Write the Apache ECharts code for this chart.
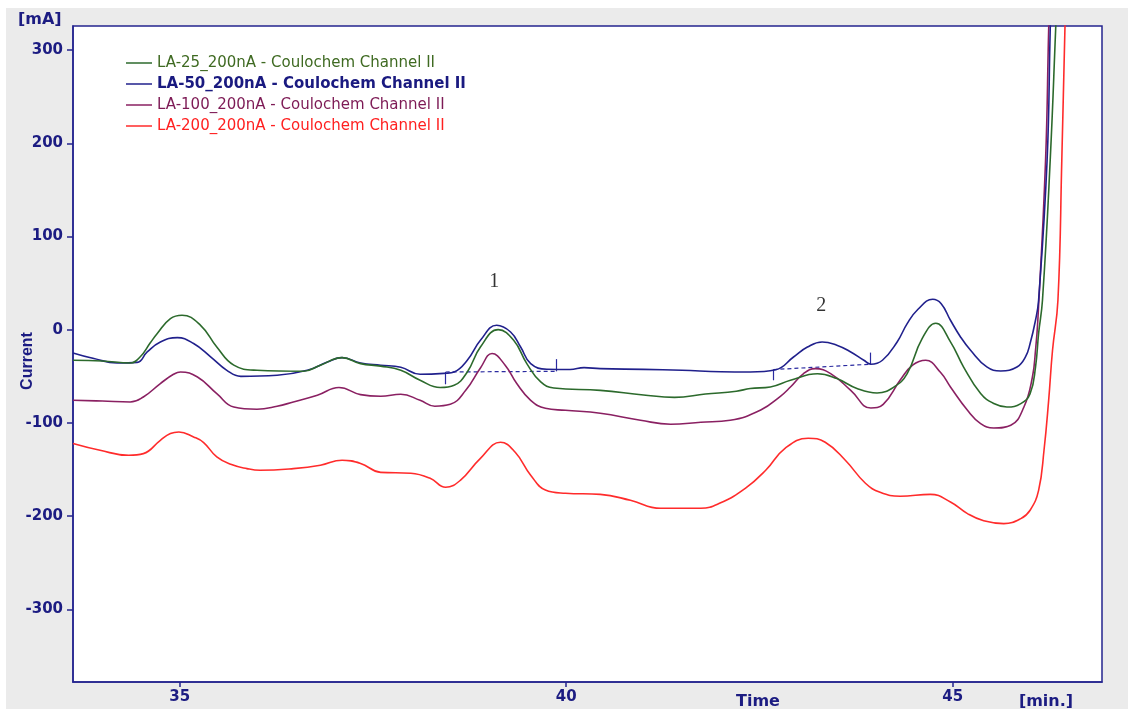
<!DOCTYPE html>
<html>
<head>
<meta charset="utf-8">
<title>Coulochem Channel II</title>
<script src="https://cdn.jsdelivr.net/npm/echarts@6/dist/echarts.min.js"></script>
<style>
  html, body { margin: 0; padding: 0; background: #ffffff; }
  #frame { position: absolute; left: 6px; top: 8px; width: 1122px; height: 701px; background: #ebebeb; }
  #chart { position: absolute; left: 0; top: 0; width: 1128px; height: 709px; }
</style>
</head>
<body>
<div id="frame"></div>
<div id="chart"></div>
<script>
// Chromatogram traces: [time (min), current (mA)]
const la25 = [
  [33.62, -32.7], [34.0, -33.5], [34.36, -35.6], [34.49, -29], [34.62, -14], [34.71, -4],
  [34.88, 12], [35.03, 15.6], [35.27, 4.8], [35.48, -18.5], [35.7, -38], [36.0, -43.5],
  [36.6, -44.5], [36.82, -38], [37.1, -29.9], [37.34, -36.3], [37.6, -39], [37.86, -43.5],
  [38.11, -54.2], [38.37, -62], [38.55, -59.6], [38.72, -45.3], [38.89, -18.5], [39.12, 0.2],
  [39.32, -11.3], [39.49, -36.3], [39.67, -56], [39.84, -62.5], [40.44, -65], [41.0, -70],
  [41.4, -72.5], [41.8, -69], [42.2, -66], [42.38, -63], [42.64, -61.4], [42.9, -54.2],
  [43.25, -47.2], [43.5, -52.4], [43.76, -63], [44.02, -67.8], [44.24, -61.4], [44.41, -47],
  [44.6, -10], [44.78, 7], [44.97, -13], [45.14, -40], [45.36, -68.5], [45.53, -79.2],
  [45.7, -82.9], [45.88, -79.2], [46.0, -68.5], [46.07, -40], [46.11, -4], [46.16, 31.7],
  [46.26, 181.9], [46.33, 321.5], [46.34, 345]
];
const la50 = [
  [33.62, -24.9], [33.89, -30.9], [34.19, -35.6], [34.45, -35], [34.58, -23.8], [34.75, -13.1],
  [34.97, -8.4], [35.18, -14.8], [35.4, -29], [35.61, -43.5], [35.79, -50], [36.26, -48.8],
  [36.65, -43.5], [36.91, -34.6], [37.1, -29.9], [37.34, -35.6], [37.6, -38], [37.86, -40.2],
  [38.11, -47.8], [38.44, -46.7], [38.55, -45.3], [38.72, -32.7], [38.89, -11.3], [39.1, 4.8],
  [39.28, -2.4], [39.41, -18.5], [39.54, -36.3], [39.75, -42.4], [40.05, -42.7], [40.23, -40.6],
  [40.44, -41.7], [41.0, -42.5], [41.5, -43.5], [42.0, -45], [42.38, -45.3], [42.71, -42.9],
  [42.94, -29.2], [43.12, -18.5], [43.31, -13.1], [43.5, -16.6], [43.68, -23.8], [43.85, -32.7],
  [43.94, -37], [44.09, -32.7], [44.28, -13.1], [44.41, 6.6], [44.55, 22], [44.74, 32.7],
  [44.85, 28], [44.97, 10.2], [45.1, -7.7], [45.23, -22], [45.44, -39.9], [45.62, -44.2],
  [45.83, -40], [45.94, -29.2], [46.0, -14.8], [46.07, 10.2], [46.11, 31.7], [46.22, 181.9],
  [46.26, 321.5], [46.27, 345]
];
const la100 = [
  [33.62, -75.7], [34.0, -76.5], [34.36, -77.5], [34.53, -72.1], [34.75, -57.7], [34.92, -47.8],
  [35.01, -45.3], [35.23, -50.7], [35.48, -68.5], [35.7, -82.9], [36.0, -85.3], [36.26, -82.1],
  [36.47, -77.5], [36.78, -70.3], [37.06, -62], [37.34, -69.6], [37.6, -71.4], [37.86, -69.2],
  [38.11, -75.7], [38.3, -82], [38.5, -80], [38.7, -65], [38.89, -41], [39.04, -25.5],
  [39.21, -38], [39.36, -57.7], [39.54, -75.7], [39.73, -84.3], [39.99, -86.4], [40.44, -89.6],
  [40.96, -97.1], [41.35, -101.4], [41.74, -99.3], [42.12, -97.1], [42.51, -86.4], [42.77, -71.4],
  [42.9, -61.4], [43.07, -47], [43.22, -41.7], [43.42, -47], [43.68, -65], [43.94, -84],
  [44.1, -80], [44.32, -54], [44.48, -38], [44.65, -32.7], [44.84, -45.6], [44.97, -61.4],
  [45.19, -86.4], [45.36, -100.7], [45.53, -105.4], [45.75, -102.5], [45.92, -82.9], [46.03, -50.7],
  [46.07, -22], [46.1, 10.2], [46.2, 181.9], [46.24, 321.5], [46.25, 345]
];
const la200 = [
  [33.62, -122], [33.97, -129.3], [34.34, -134.7], [34.53, -132.9], [34.75, -118.6], [34.88, -111.4],
  [34.99, -109.7], [35.18, -115], [35.31, -121], [35.48, -136.5], [35.66, -144.4], [35.87, -149],
  [36.04, -150.8], [36.47, -149], [36.82, -145.4], [37.1, -140], [37.34, -143.4], [37.6, -153],
  [37.99, -154], [38.24, -159.4], [38.44, -169], [38.63, -161.6], [38.89, -138], [39.15, -120.7],
  [39.34, -131.5], [39.54, -156], [39.73, -172], [39.99, -175.5], [40.44, -176.6], [40.83, -183],
  [41.22, -191.6], [41.74, -191.6], [41.99, -186], [42.32, -170], [42.58, -150.8], [42.83, -127.2],
  [43.13, -116.4], [43.35, -120.7], [43.61, -140], [43.87, -164.7], [44.06, -174.4], [44.32, -178.7],
  [44.71, -176.6], [44.97, -184.8], [45.19, -197.3], [45.4, -205], [45.66, -208], [45.88, -202.7],
  [46.0, -193.7], [46.11, -172.3], [46.18, -129.3], [46.24, -75.7], [46.29, -22], [46.36, 31.7],
  [46.41, 181.9], [46.45, 321.5], [46.46, 345]
];

const seriesNames = [
  'LA-25_200nA - Coulochem Channel II',
  'LA-50_200nA - Coulochem Channel II',
  'LA-100_200nA - Coulochem Channel II',
  'LA-200_200nA - Coulochem Channel II'
];
const seriesColors = ['#2c6a2c', '#20208c', '#8a2062', '#ff2b2b'];
const legendTextColors = ['#3f6a22', '#1a1a80', '#7d1a55', '#ff2020'];

// Axis ticks
const timeTicks = [35, 40, 45];
const currentTicks = [-300, -200, -100, 0, 100, 200, 300];
const timeRange = [33.62, 46.93];
const currentRange = [-378, 326];

// Integration baselines drawn under the numbered peaks: [start, end]
const baselines = [
  [[38.44, -45.3], [39.87, -44.6]],
  [[42.68, -42.7], [43.93, -37.0]]
];
// Short vertical markers at the baseline ends: [time, from, to]
const baselineMarks = [
  [38.44, -45.3, -58.5],
  [39.87, -44.6, -31.5],
  [42.68, -42.7, -54.2],
  [43.93, -37.0, -24.5]
];
// Peak numbers
const peakTimes = [39.07, 43.30];
const peakLevels = [52, 26];
const peakNames = ['1', '2'];

const axisColor = '#24248f';
const textColor = '#1c1c82';
const font = 'DejaVu Sans';

const traces = [la25, la50, la100, la200];

const markLineData = [];
baselines.forEach(function (b) {
  markLineData.push([
    { coord: b[0], lineStyle: { type: [4, 3], color: '#2a2aa0', width: 1.2 } },
    { coord: b[1] }
  ]);
});
baselineMarks.forEach(function (m) {
  markLineData.push([
    { coord: [m[0], m[1]], lineStyle: { type: 'solid', color: '#2a2aa0', width: 1.2 } },
    { coord: [m[0], m[2]] }
  ]);
});

const series = traces.map(function (data, i) {
  const s = {
    name: seriesNames[i],
    type: 'line',
    data: data,
    showSymbol: false,
    symbol: 'none',
    smooth: 0.45,
    clip: true,
    z: 10 - i,
    lineStyle: { color: seriesColors[i], width: 1.6 },
    itemStyle: { color: seriesColors[i] }
  };
  if (i === 1) {
    s.markLine = {
      silent: true,
      symbol: ['none', 'none'],
      label: { show: false },
      data: markLineData
    };
  }
  return s;
});

series.push({
  name: 'peaks',
  type: 'scatter',
  symbolSize: 0,
  silent: true,
  data: peakTimes.map(function (t, i) {
    return { name: peakNames[i], value: [t, peakLevels[i]] };
  }),
  label: {
    show: true,
    position: 'inside',
    formatter: '{b}',
    fontFamily: 'Liberation Serif',
    fontSize: 20,
    color: '#000000'
  }
});

const chart = echarts.init(document.getElementById('chart'), null, { renderer: 'canvas' });
chart.setOption({
  animation: false,
  backgroundColor: 'transparent',
  grid: {
    left: 73, top: 26, right: 26, bottom: 27,
    show: true,
    backgroundColor: '#ffffff',
    borderColor: axisColor,
    borderWidth: 1.5
  },
  legend: {
    orient: 'vertical',
    left: 121,
    top: 50,
    itemWidth: 26,
    itemHeight: 1.5,
    itemGap: 5,
    icon: 'rect',
    selectedMode: false,
    textStyle: { fontFamily: font, fontSize: 15, lineHeight: 16 },
    data: seriesNames.map(function (n, i) {
      return {
        name: n,
        itemStyle: { color: seriesColors[i] },
        textStyle: {
          color: legendTextColors[i],
          fontWeight: i === 1 ? 'bold' : 'normal'
        }
      };
    })
  },
  xAxis: {
    type: 'value',
    min: timeRange[0],
    max: timeRange[1],
    axisLine: { show: true, onZero: false, lineStyle: { color: axisColor, width: 1.5 } },
    axisTick: { show: true, length: 5, customValues: timeTicks, lineStyle: { color: axisColor, width: 1.5 } },
    axisLabel: {
      customValues: timeTicks,
      margin: 8,
      color: textColor,
      fontFamily: font,
      fontWeight: 'bold',
      fontSize: 15
    },
    splitLine: { show: false }
  },
  yAxis: {
    type: 'value',
    min: currentRange[0],
    max: currentRange[1],
    axisLine: { show: true, onZero: false, lineStyle: { color: axisColor, width: 1.5 } },
    axisTick: { show: true, length: 6, customValues: currentTicks, lineStyle: { color: axisColor, width: 1.5 } },
    axisLabel: {
      customValues: currentTicks,
      margin: 10,
      color: textColor,
      fontFamily: font,
      fontWeight: 'bold',
      fontSize: 15
    },
    splitLine: { show: false }
  },
  graphic: [
    { type: 'text', left: 18, top: 12, style: { text: '[mA]', fill: textColor, font: 'bold 16px "DejaVu Sans"' } },
    { type: 'text', x: 28, y: 361, rotation: Math.PI / 2,
      style: { text: 'Current', fill: textColor, font: 'bold 16px "Liberation Sans"', align: 'center', verticalAlign: 'middle' } },
    { type: 'text', x: 758, y: 702, style: { text: 'Time', fill: textColor, font: 'bold 16px "DejaVu Sans"', align: 'center', verticalAlign: 'middle' } },
    { type: 'text', x: 1046, y: 702, style: { text: '[min.]', fill: textColor, font: 'bold 16px "DejaVu Sans"', align: 'center', verticalAlign: 'middle' } }
  ],
  series: series
});
</script>
</body>
</html>
